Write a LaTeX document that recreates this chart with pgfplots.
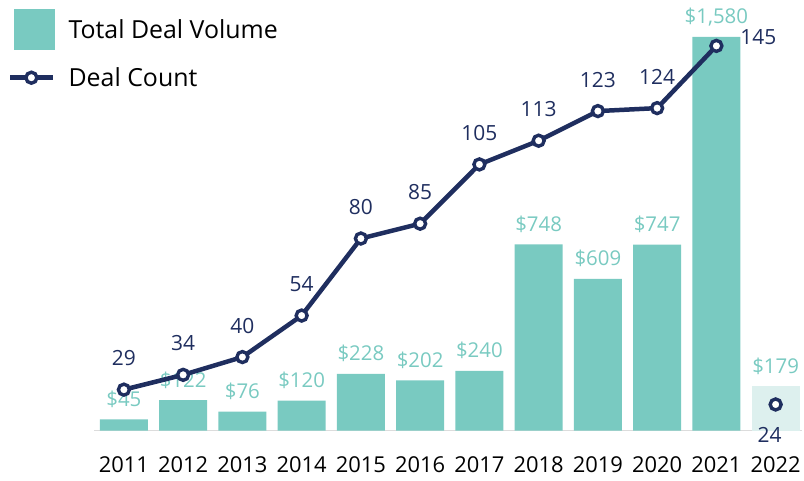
\documentclass[border=0pt]{standalone}
\usepackage{pgfplots}
\usepackage{pgfplotstable}
\pgfplotsset{compat=1.18}
\usepackage{fontspec}
\setmainfont{Open Sans}
\definecolor{barc}{HTML}{79CAC1}
\definecolor{barl}{HTML}{DDF0EE}
\definecolor{navy}{HTML}{1F2E5F}
\definecolor{basec}{HTML}{DCDCDC}
\pgfplotstableread{
x y dx dy
0 29 0 24
1 34 0 24
2 40 0 24
3 54 0 24
4 80 0 24
5 85 0 24
6 105 0 24
7 113 0 24
8 123 0 24
9 124 0 24
10 145 42 1
}\countdata
\pgfplotstableread{
x y
11 24
}\countlast
\pgfplotstableread{
x y
0 45
1 122
2 76
3 120
4 228
5 202
6 240
7 748
8 609
9 747
10 1580
}\voldata
\begin{document}
\begin{tikzpicture}[x=1bp,y=1bp]
\path (0,0) rectangle (804,481);
\pgfplotsset{base/.style={scale only axis, width=708.6bp, height=401bp,
  at={(94.35bp,50bp)}, anchor=south west, xmin=-0.5, xmax=11.45, clip=false,
  /pgf/number format/assume math mode=true}}
\begin{axis}[base, ymin=0, ymax=1608,
  hide y axis, axis x line*=bottom,
  axis line style={basec, line width=1.5bp, -},
  xtick={0,...,11},
  xticklabels={2011,2012,2013,2014,2015,2016,2017,2018,2019,2020,2021,2022},
  major tick length=0,
  xticklabel style={font=\fontsize{22}{26}\selectfont, text=black, anchor=base, yshift=-42bp},
  ybar, bar width=48bp, bar shift=0pt,
  nodes near coords={\$\pgfmathprintnumber[1000 sep={,}]{\pgfplotspointmeta}},
  nodes near coords align={anchor=base},
  every node near coord/.append style={font=\fontsize{20.5}{24}\selectfont, text=barc, anchor=base, yshift=13bp, inner sep=0pt},
  ]
\addplot[fill=barc, draw=none] table[x=x,y=y] {\voldata};
\addplot[fill=barl, draw=none] coordinates {(11,179)};
\end{axis}
\begin{axis}[base, ymin=15.17, ymax=150.37, axis lines=none,
  legend style={at={(-0.1219,1.0524)}, anchor=north west, draw=none, fill=none,
    font=\fontsize{25}{30}\selectfont, row sep=16bp, inner sep=0pt, column sep=0pt},
  legend cell align=left,
  ]
\addlegendimage{legend image code/.code={\fill[barc] (0bp,-20bp) rectangle (40bp,20bp);}}
\addlegendentry{\hspace*{11bp}Total Deal Volume}
\addplot[navy, line width=4.5bp, mark=*, mark size=5.5bp,
  mark options={fill=white, draw=navy, line width=3.4bp},
  nodes near coords, nodes near coords align={anchor=base},
  visualization depends on={\thisrow{dx}\as\mydx},
  visualization depends on={\thisrow{dy}\as\mydy},
  every node near coord/.append style={font=\fontsize{21}{25}\selectfont, text=navy, anchor=base, xshift=\mydx bp, yshift=\mydy bp, inner sep=0pt},
  legend image code/.code={\draw[navy, line width=4.5bp] (-4bp,0)--(39bp,0);
     \draw[navy, line width=3.4bp, fill=white] (17bp,0) circle (5.5bp);}]
  table[x=x,y=y] {\countdata};
\addlegendentry{\hspace*{11bp}Deal Count}
\addplot[only marks, mark=*, mark size=5.5bp,
  mark options={fill=white, draw=navy, line width=3.4bp}, forget plot,
  nodes near coords, nodes near coords align={anchor=base},
  every node near coord/.append style={font=\fontsize{21}{25}\selectfont, text=navy, anchor=base, xshift=-6bp, yshift=-38bp, inner sep=0pt}]
  table[x=x,y=y] {\countlast};
\end{axis}
\end{tikzpicture}
\end{document}
